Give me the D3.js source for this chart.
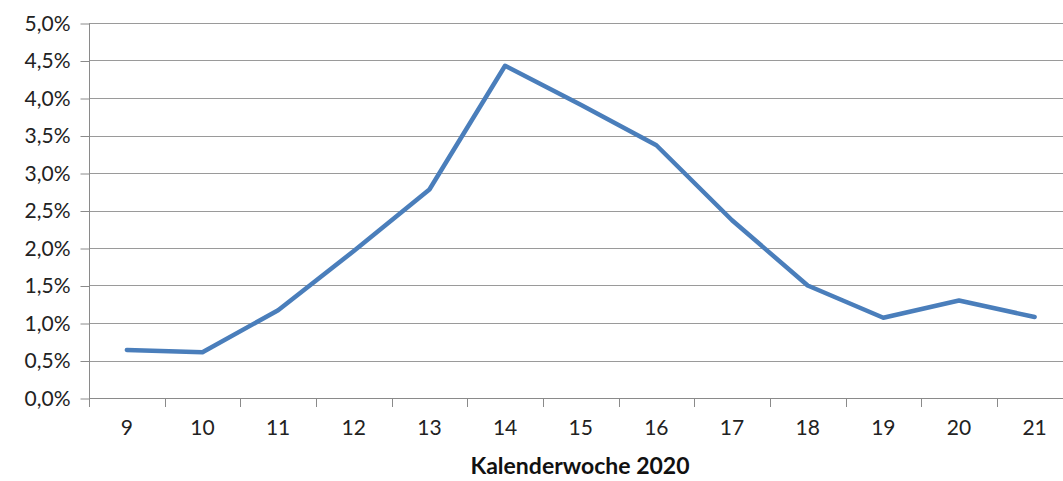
<!DOCTYPE html>
<html><head><meta charset="utf-8">
<script src="https://cdn.jsdelivr.net/npm/d3@7"></script>
<style>body{margin:0;background:#fff;} svg{display:block;}</style>
</head><body>
<svg id="c" width="1063" height="481"></svg>
<script>
const weeks = ["9","10","11","12","13","14","15","16","17","18","19","20","21"];
const values = [0.64,0.61,1.17,1.96,2.78,4.43,3.91,3.37,2.37,1.50,1.07,1.30,1.08];
const yTicks = [0,0.5,1,1.5,2,2.5,3,3.5,4,4.5,5];
const xTitle = "Kalenderwoche 2020";

(function(){
const svg = d3.select("#c");
const pLeft = 89, pTop = 23, pBottom = 398;
const bandW = 75.65;
const pRight = pLeft + bandW * weeks.length;
const font = "Lato, 'Open Sans', sans-serif";

const x = d3.scaleBand().domain(weeks).range([pLeft, pRight]);
const y = d3.scaleLinear().domain([0,5]).range([pBottom, pTop]);

// gridlines
svg.append("g").selectAll("line").data(yTicks.filter(d=>d>0)).join("line")
  .attr("x1", pLeft).attr("x2", pRight)
  .attr("y1", d=>Math.round(y(d))+0.5).attr("y2", d=>Math.round(y(d))+0.5)
  .attr("stroke", "#9a9a9a").attr("stroke-width", 1.2);

// y axis
const yAxis = d3.axisLeft(y).tickValues(yTicks).tickSize(9).tickPadding(10)
  .tickFormat(d => d3.format(".1f")(d).replace(".", ",") + "%");
const gy = svg.append("g").attr("transform", `translate(${pLeft+0.5},0.5)`).call(yAxis);
gy.select(".domain").attr("stroke", "#8a8a8a").attr("d", `M0,${pTop}V${pBottom}`);
gy.selectAll(".tick line").attr("stroke", "#8a8a8a");
gy.selectAll(".tick text").attr("font-family", font).attr("font-size", 21).attr("fill", "#222");

// x axis
const xAxis = d3.axisBottom(x).tickSize(0).tickPadding(22);
const gx = svg.append("g").attr("transform", `translate(0,${pBottom+0.5})`).call(xAxis);
gx.select(".domain").attr("stroke", "#8a8a8a").attr("d", `M${pLeft},0H${pRight}`);
gx.selectAll(".tick text").attr("font-family", font).attr("font-size", 21).attr("fill", "#222");
// category boundary ticks
const bounds = d3.range(weeks.length + 1).map(i => pLeft + bandW * i);
svg.append("g").selectAll("line").data(bounds).join("line")
  .attr("x1", d=>Math.round(d)+0.5).attr("x2", d=>Math.round(d)+0.5)
  .attr("y1", pBottom).attr("y2", pBottom+9)
  .attr("stroke", "#8a8a8a");

// line
const line = d3.line().x((d,i)=>x(weeks[i]) + x.bandwidth()/2).y(d=>y(d));
svg.append("path").datum(values).attr("d", line)
  .attr("fill", "none").attr("stroke", "#4a7ebb").attr("stroke-width", 4.5)
  .attr("stroke-linejoin", "round").attr("stroke-linecap", "round");

// title
svg.append("text").attr("x", 580).attr("y", 474).attr("text-anchor", "middle")
  .attr("font-family", font).attr("font-size", 23).attr("font-weight", "bold").attr("fill", "#111")
  .text(xTitle);
})();
</script>
</body></html>
